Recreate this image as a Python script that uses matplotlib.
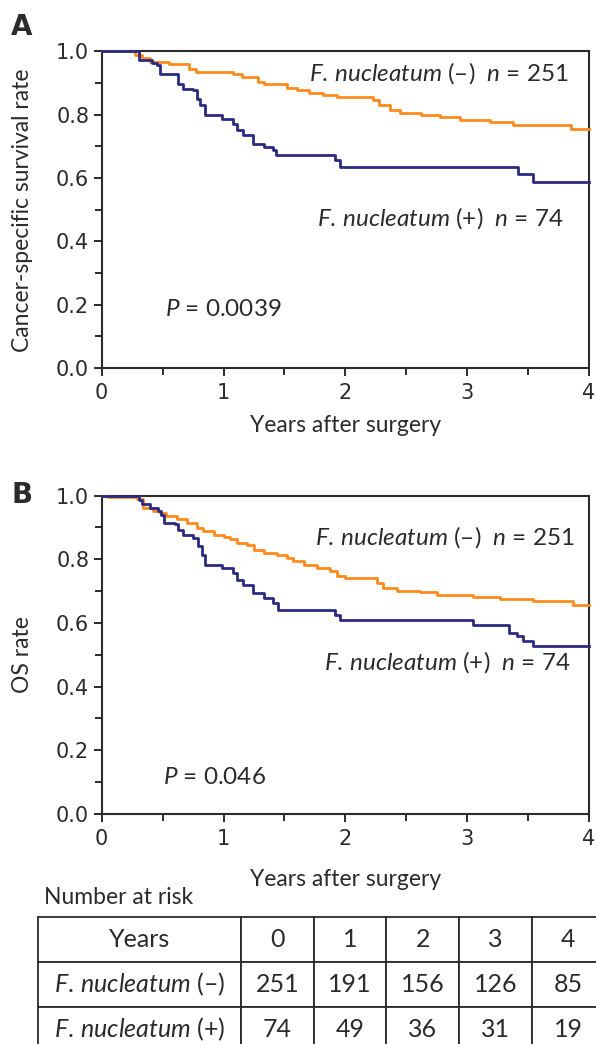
import numpy as np
import matplotlib.pyplot as plt
from matplotlib.ticker import MultipleLocator

plt.rcParams['font.family'] = ['Lato', 'DejaVu Sans']
plt.rcParams['mathtext.fontset'] = 'custom'
plt.rcParams['mathtext.rm'] = 'Lato'
plt.rcParams['mathtext.it'] = 'Lato:italic'

ORANGE = '#FF8A1C'
NAVY = '#2A2A82'
INK = '#2b2b2b'

# Panel A: cancer-specific survival (step points)
a_neg_t = [0, 0.27, 0.33, 0.40, 0.55, 0.72, 0.77, 1.08, 1.15, 1.28, 1.33, 1.52, 1.60,
           1.70, 1.82, 1.93, 2.23, 2.28, 2.37, 2.45, 2.62, 2.78, 2.94, 3.19, 3.38, 3.85, 4.0]
a_neg_s = [1.0, 0.99, 0.978, 0.966, 0.96, 0.945, 0.935, 0.928, 0.92, 0.905, 0.897, 0.886, 0.877,
           0.87, 0.864, 0.856, 0.848, 0.83, 0.815, 0.805, 0.80, 0.793, 0.783, 0.777, 0.767, 0.756, 0.756]
a_pos_t = [0, 0.31, 0.41, 0.45, 0.48, 0.63, 0.67, 0.75, 0.78, 0.81, 0.85, 0.985, 1.08, 1.11,
           1.16, 1.245, 1.33, 1.41, 1.43, 1.915, 1.955, 3.42, 3.54, 4.0]
a_pos_s = [1.0, 0.972, 0.965, 0.956, 0.93, 0.898, 0.882, 0.877, 0.851, 0.83, 0.798, 0.788, 0.772, 0.751,
           0.735, 0.709, 0.698, 0.688, 0.672, 0.656, 0.635, 0.614, 0.588, 0.588]

# Panel B: overall survival
b_neg_t = [0, 0.05, 0.29, 0.34, 0.42, 0.48, 0.53, 0.62, 0.70, 0.78, 0.83, 0.92, 1.00, 1.05,
           1.11, 1.19, 1.25, 1.33, 1.44, 1.52, 1.57, 1.66, 1.77, 1.87, 1.93, 2.00, 2.26, 2.31,
           2.42, 2.61, 2.75, 3.05, 3.27, 3.54, 3.87, 4.0]
b_neg_s = [1.0, 0.996, 0.989, 0.961, 0.951, 0.946, 0.935, 0.925, 0.914, 0.898, 0.888, 0.877, 0.870, 0.862,
           0.851, 0.846, 0.830, 0.820, 0.812, 0.804, 0.793, 0.783, 0.773, 0.762, 0.746, 0.741, 0.725, 0.710,
           0.701, 0.697, 0.689, 0.681, 0.675, 0.668, 0.657, 0.657]
b_pos_t = [0, 0.31, 0.33, 0.40, 0.465, 0.49, 0.51, 0.60, 0.63, 0.67, 0.75, 0.79, 0.82, 0.85, 0.985,
           1.08, 1.11, 1.16, 1.245, 1.33, 1.41, 1.45, 1.915, 1.955, 3.05, 3.34, 3.41, 3.46, 3.54, 4.0]
b_pos_s = [1.0, 0.985, 0.972, 0.961, 0.951, 0.940, 0.914, 0.909, 0.893, 0.877, 0.867, 0.841, 0.814, 0.783, 0.773,
           0.757, 0.736, 0.720, 0.694, 0.678, 0.663, 0.642, 0.626, 0.608, 0.592, 0.568, 0.558, 0.542, 0.526, 0.526]

# Number at risk table
risk_years = [0, 1, 2, 3, 4]
risk_neg = [251, 191, 156, 126, 85]
risk_pos = [74, 49, 36, 31, 19]

lab_neg = r'$\mathit{F.}\,\mathit{nucleatum}$ (–)'
lab_pos = r'$\mathit{F.}\,\mathit{nucleatum}$ (+)'

fig = plt.figure(figsize=(5.96, 10.44), dpi=100)
W, H = 596, 1044


def px_axes(left, top, right, bottom):
    return fig.add_axes([left / W, 1 - bottom / H, (right - left) / W, (bottom - top) / H])


def km_panel(ax, neg_t, neg_s, pos_t, pos_s, ylabel, pval, neg_xy, pos_xy, p_xy):
    ax.step(neg_t, neg_s, where='post', color=ORANGE, lw=2.0, clip_on=False, zorder=3)
    ax.step(pos_t, pos_s, where='post', color=NAVY, lw=2.0, clip_on=False, zorder=4)
    ax.set_xlim(0, 4)
    ax.set_ylim(0, 1)
    ax.xaxis.set_minor_locator(MultipleLocator(0.5))
    ax.yaxis.set_minor_locator(MultipleLocator(0.1))
    ax.set_yticks(np.arange(0, 1.01, 0.2))
    ax.set_yticklabels(['%.1f' % v for v in np.arange(0, 1.01, 0.2)], family='DejaVu Sans')
    ax.set_xticks(range(5))
    ax.set_xticklabels([str(v) for v in range(5)], family='DejaVu Sans')
    ax.tick_params(which='major', direction='out', length=6, width=1.4, color=INK,
                   labelsize=15, labelcolor=INK, pad=3)
    ax.tick_params(axis='x', which='major', pad=5)
    ax.tick_params(which='minor', direction='out', length=5, width=1.4, color=INK)
    for s in ax.spines.values():
        s.set_linewidth(1.5)
        s.set_color(INK)
    ax.set_xlabel('Years after surgery', fontsize=16.5, color=INK)
    ax.set_ylabel(ylabel, fontsize=16.5, color=INK)
    ax.yaxis.set_label_coords(-0.14, 0.5)
    ax.text(neg_xy[0], neg_xy[1], lab_neg + r'  $\mathit{n}$ = 251', ha='right',
            va='baseline', fontsize=17.5, color=INK)
    ax.text(pos_xy[0], pos_xy[1], lab_pos + r'  $\mathit{n}$ = 74', ha='right',
            va='baseline', fontsize=17.5, color=INK)
    ax.text(p_xy[0], p_xy[1], r'$\mathit{P}$ = ' + pval, ha='left', va='baseline',
            fontsize=17.5, color=INK)


ax_a = px_axes(101.7, 51.5, 589, 368)
km_panel(ax_a, a_neg_t, a_neg_s, a_pos_t, a_pos_s, 'Cancer-specific survival rate', '0.0039',
         (3.83, 0.908), (3.79, 0.451), (0.52, 0.165))
ax_a.xaxis.set_label_coords(0.5, -0.15)

ax_b = px_axes(101.7, 495.5, 589, 814)
km_panel(ax_b, b_neg_t, b_neg_s, b_pos_t, b_pos_s, 'OS rate', '0.046',
         (3.886, 0.846), (3.85, 0.453), (0.50, 0.094))
ax_b.xaxis.set_label_coords(0.5, -0.172)

fig.text(11 / W, 1 - 35 / H, 'A', fontsize=20, fontweight='bold', family='DejaVu Sans', color=INK)
fig.text(11 / W, 1 - 503 / H, 'B', fontsize=20, fontweight='bold', family='DejaVu Sans', color=INK)
fig.text(44 / W, 1 - 904 / H, 'Number at risk', fontsize=16.5, color=INK)

# table runs off the right and bottom edge like the source
ax_t = px_axes(38, 917, 604.5, 1052)
ax_t.axis('off')
cells = [['Years'] + [str(v) for v in risk_years],
         [lab_neg] + [str(v) for v in risk_neg],
         [lab_pos] + [str(v) for v in risk_pos]]
first_w = 203 / 566.5
other_w = (1 - first_w) / 5
tbl = ax_t.table(cellText=cells, cellLoc='center', colWidths=[first_w] + [other_w] * 5,
                 bbox=[0, 0, 1, 1])
tbl.auto_set_font_size(False)
for (r, c), cell in tbl.get_celld().items():
    cell.set_edgecolor(INK)
    cell.set_linewidth(1.3)
    cell.get_text().set_fontsize(18)
    cell.get_text().set_color(INK)
    cell.get_text().set_fontfamily(['Lato', 'DejaVu Sans'])
    cell.set_clip_on(False)

fig.savefig('out.png', dpi=100)
